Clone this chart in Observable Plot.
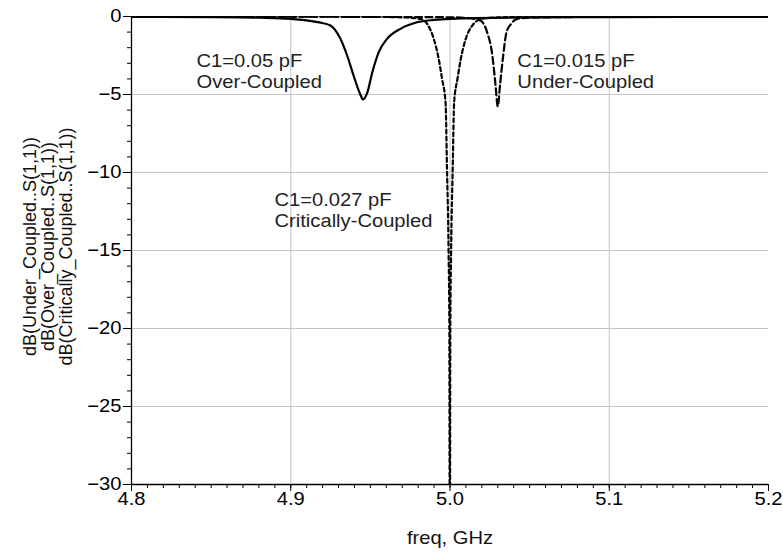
<!DOCTYPE html>
<html>
<head>
<meta charset="utf-8">
<script src="https://cdn.jsdelivr.net/npm/d3@7"></script>
<script src="https://cdn.jsdelivr.net/npm/@observablehq/plot@0.6"></script>
<style>
  html, body { margin: 0; padding: 0; background: #fff; }
  #chart svg { display: block; }
</style>
</head>
<body>
<div id="chart"></div>
<script>
// ---- data ----
const overFreq = [4.80, 4.85, 4.88, 4.90, 4.91, 4.918, 4.9249, 4.9312, 4.9354, 4.9395, 4.9437, 4.9454, 4.9480, 4.9511, 4.9552, 4.9605, 4.9689, 4.9793, 4.99, 5.00, 5.05, 5.10, 5.20];
const overDb   = [-0.02, -0.04, -0.08, -0.15, -0.25, -0.38, -0.58, -1.43, -2.5, -3.8, -5.0, -5.32, -4.9, -3.62, -2.3, -1.43, -0.79, -0.37, -0.22, -0.15, -0.06, -0.04, -0.02];

const underFreq = [4.80, 4.95, 5.00, 5.01, 5.015, 5.0191, 5.0233, 5.0266, 5.0285, 5.0300, 5.0315, 5.0334, 5.0355, 5.0382, 5.0421, 5.05, 5.10, 5.20];
const underDb   = [-0.01, -0.02, -0.05, -0.09, -0.15, -0.26, -1.0, -2.5, -4.3, -5.75, -4.3, -2.5, -1.0, -0.5, -0.15, -0.08, -0.02, -0.01];

const critFreq = [4.80, 4.95, 4.97, 4.9814, 4.9856, 4.9898, 4.9929, 4.9950, 4.9972, 4.9981, 4.9991, 4.9996, 4.9999, 5.0002, 5.0007, 5.0017, 5.0026, 5.0047, 5.0068, 5.0099, 5.0140, 5.0200, 5.03, 5.05, 5.20];
const critDb   = [-0.01, -0.02, -0.06, -0.15, -0.47, -1.43, -2.71, -3.99, -5.49, -9.7, -15.0, -20, -40, -20, -15.0, -9.7, -5.49, -3.99, -2.71, -1.43, -0.58, -0.15, -0.06, -0.02, -0.01];

const xTicks = [4.8, 4.9, 5.0, 5.1, 5.2];
const yTicks = [0, -5, -10, -15, -20, -25, -30];
const yTitle = "dB(Under_Coupled..S(1,1))\ndB(Over_Coupled..S(1,1))\ndB(Critically_Coupled..S(1,1))";
const xTitle = "freq, GHz";
const annotations = [
  {text: "C1=0.05 pF\nOver-Coupled", f: 4.8408, db: -3.5},
  {text: "C1=0.015 pF\nUnder-Coupled", f: 5.0423, db: -3.5},
  {text: "C1=0.027 pF\nCritically-Coupled", f: 4.8898, db: -12.4}
];

// ---- build rows ----
const rows = (fs, ds) => fs.map((f, i) => ({f, db: ds[i]}));
const over = rows(overFreq, overDb);
const under = rows(underFreq, underDb);
const crit = rows(critFreq, critDb);

const minorX = d3.range(0, 41).map(i => +(4.8 + i * 0.01).toFixed(2));
const minorY = d3.range(0, 31).map(i => -i);
const font = "Arial, 'Liberation Sans', sans-serif";

const chart = Plot.plot({
  width: 783,
  height: 554,
  marginLeft: 131,
  marginRight: 15,
  marginTop: 16,
  marginBottom: 70,
  style: {fontFamily: font, fontSize: "18px", color: "#000", background: "#fff"},
  x: {domain: [4.8, 5.2], label: null},
  y: {domain: [-30, 0], label: null},
  marks: [
    Plot.gridX(xTicks.slice(1, -1), {stroke: "#c4c4c4", strokeOpacity: 1, strokeWidth: 1}),
    Plot.gridY(yTicks.slice(1, -1), {stroke: "#c4c4c4", strokeOpacity: 1, strokeWidth: 1}),
    Plot.axisX(minorX, {tickSize: 4, text: null, stroke: "#000", label: null}),
    Plot.axisX(xTicks, {tickSize: 7, tickPadding: 1, tickFormat: d3.format(".1f"), stroke: "#000", label: null, fontSize: 18}),
    Plot.axisY(minorY, {tickSize: 4, text: null, stroke: "#000", label: null}),
    Plot.axisY(yTicks, {tickSize: 8, tickPadding: 2, stroke: "#000", label: null, fontSize: 18}),
    Plot.ruleX([4.8], {stroke: "#000", strokeWidth: 1.3}),
    Plot.ruleY([-30], {stroke: "#000", strokeWidth: 1.3}),
    Plot.line(over, {x: "f", y: "db", stroke: "#000", strokeWidth: 2.2, curve: "monotone-x", clip: true}),
    Plot.line(under, {x: "f", y: "db", stroke: "#000", strokeWidth: 2.2, strokeDasharray: "7,3.5", curve: "monotone-x", clip: true}),
    Plot.line(crit, {x: "f", y: "db", stroke: "#000", strokeWidth: 2.2, strokeDasharray: "4,3", curve: "monotone-x", clip: true}),
    Plot.text(annotations, {x: "f", y: "db", text: "text", textAnchor: "start", lineAnchor: "middle", lineHeight: 1.15, fontSize: 18, fill: "#222"}),
    Plot.text([yTitle], {frameAnchor: "left", rotate: -90, dx: -83, dy: -4, lineAnchor: "middle", textAnchor: "middle", lineHeight: 1.0, fontSize: 18, fill: "#111"}),
    Plot.text([xTitle], {frameAnchor: "bottom", dy: 54, lineAnchor: "middle", fontSize: 18, fill: "#111"})
  ]
});

// the reference's lettering is slightly wider than Arial at this height:
// stretch horizontal text about its own anchor point
chart.querySelectorAll("text").forEach(t => {
  const tr = t.getAttribute("transform");
  if (tr && /^translate\([^)]*\)$/.test(tr.trim())) {
    t.setAttribute("transform", tr + " scale(1.12,1)");
  }
});
document.getElementById("chart").appendChild(chart);
</script>
</body>
</html>
